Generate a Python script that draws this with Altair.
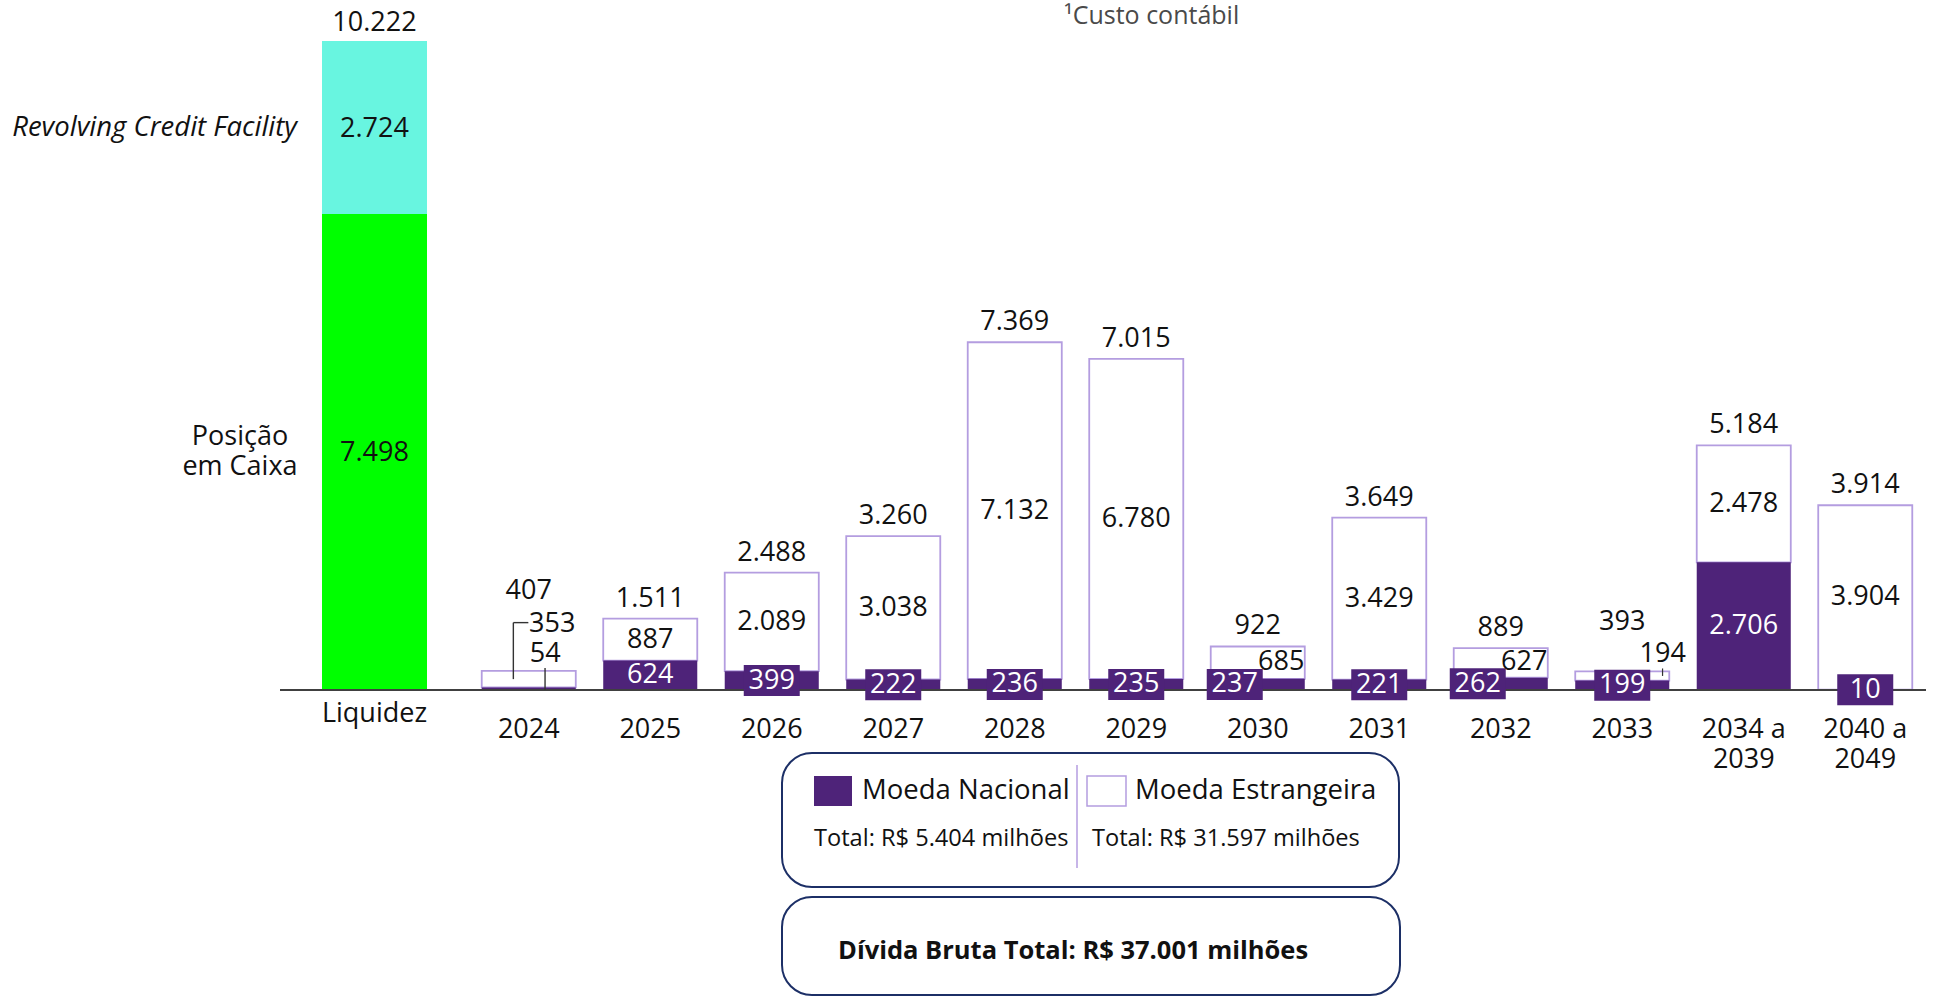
import altair as alt
import pandas as pd

# ---------------- data ----------------
categories = ["2024", "2025", "2026", "2027", "2028", "2029", "2030", "2031",
              "2032", "2033", "2034 a 2039", "2040 a 2049"]
moeda_nacional = [54, 624, 399, 222, 236, 235, 237, 221, 262, 199, 2706, 10]
moeda_estrangeira = [353, 887, 2089, 3038, 7132, 6780, 685, 3429, 627, 194, 2478, 3904]
totais = [407, 1511, 2488, 3260, 7369, 7015, 922, 3649, 889, 393, 5184, 3914]

liq_category = ["Liquidez"]
posicao_caixa = [7498]
revolving = [2724]
liq_total = [10222]
liq_series = ["Posição\nem Caixa", "Revolving Credit Facility"]

legend_names = ["Moeda Nacional", "Moeda Estrangeira"]
legend_totals = ["Total: R$ 5.404 milhões", "Total: R$ 31.597 milhões"]
grand_total = "Dívida Bruta Total: R$ 37.001 milhões"
footnote = "¹Custo contábil"

# ---------------- style ----------------
FONT = "Open Sans"
PURPLE = "#4e2379"
LIGHT = "#b49de0"
GREEN = "#00ff00"
CYAN = "#68f5e0"
NAVY = "#1c2f66"
INK = "#111111"
LEAD = "#333333"
FS = 27


def fmt(field):
    return f"replace(format(datum.{field}, ',d'), ',', '.')"


def only(cats):
    arr = "[" + ",".join(f"'{c}'" for c in cats) + "]"
    return f"indexof({arr}, datum.cat) >= 0"


def excl(cats):
    arr = "[" + ",".join(f"'{c}'" for c in cats) + "]"
    return f"indexof({arr}, datum.cat) < 0"


# ---------------- debt (right group) ----------------
debt = pd.DataFrame({"cat": categories, "nat": moeda_nacional,
                     "est": moeda_estrangeira, "total": totais})

YS = alt.Scale(domain=[0, 14619], nice=False, zero=True)
XS = alt.Scale(domain=categories, range=[468, 1926], paddingInner=0.226, paddingOuter=0.113)
x_axis = alt.Axis(orient="bottom", domain=False, ticks=False, grid=False, labelAngle=0,
                  labelFont=FONT, labelFontSize=FS, labelColor=INK, labelPadding=26,
                  labelLineHeight=30, title=None,
                  labelExpr="indexof(datum.label, ' a ') > 0 ? [slice(datum.label, 0, 6), slice(datum.label, 7)] : datum.label")
X = alt.X("cat:N", sort=categories, scale=XS, axis=x_axis)


def yr(field):
    return alt.Y(f"{field}:Q", scale=YS, axis=None)


base = alt.Chart(debt).transform_calculate(
    zero="0",
    nat_mid="datum.nat / 2",
    top="datum.nat + datum.est",
    est_mid="datum.nat + datum.est / 2",
    nat_lbl=fmt("nat"),
    est_lbl=fmt("est"),
    tot_lbl=fmt("total"),
)

est_bars = base.mark_bar(fill="white", stroke=LIGHT, strokeWidth=1.8).encode(
    x=X, y=yr("nat"), y2=alt.Y2("top:Q"))
nat_bars = base.mark_bar(color=PURPLE).encode(x=X, y=yr("nat"))

baseline = alt.Chart(pd.DataFrame({"zero": [0]})).mark_rule(color="#404040", strokeWidth=2).encode(
    x=alt.value(280), x2=alt.value(1926), y=yr("zero"))

box_norm = base.transform_filter(excl(["2024", "2025", "2034 a 2039", "2030", "2032"])).mark_tick(
    color=PURPLE, thickness=31, size=56, opacity=1).encode(x=X, y=yr("nat_mid"))
box_shift = base.transform_filter(only(["2030", "2032"])).mark_tick(
    color=PURPLE, thickness=31, size=56, opacity=1, xOffset=-23).encode(x=X, y=yr("nat_mid"))


def label(filt, field, text, dx=0, dy=0, color=INK):
    return base.transform_filter(filt).mark_text(
        font=FONT, fontSize=FS, color=color, dx=dx, dy=dy, align="center", baseline="middle"
    ).encode(x=X, y=yr(field), text=alt.Text(f"{text}:N"))


nat_l1 = label(excl(["2024", "2030", "2032"]), "nat_mid", "nat_lbl", color="white")
nat_l2 = label(only(["2030", "2032"]), "nat_mid", "nat_lbl", dx=-23, color="white")
nat_l3 = label(only(["2024"]), "nat_mid", "nat_lbl", dx=16.5, dy=-34.5)

est_l1 = label(excl(["2024", "2030", "2032", "2033"]), "est_mid", "est_lbl")
est_l2 = label(only(["2024"]), "est_mid", "est_lbl", dx=23.5, dy=-55.5)
est_l3 = label(only(["2030", "2032"]), "est_mid", "est_lbl", dx=23.5, dy=-1)
est_l4 = label(only(["2033"]), "est_mid", "est_lbl", dx=40.5, dy=-22)

tot_l1 = label(excl(["2024", "2033"]), "top", "tot_lbl", dy=-20)
tot_l2 = label(only(["2024"]), "top", "tot_lbl", dy=-79.5)
tot_l3 = label(only(["2033"]), "top", "tot_lbl", dy=-49)

lead_a = base.transform_filter(only(["2024"])).mark_rule(
    color=LEAD, strokeWidth=1.4, xOffset=-15.4, y2Offset=-56.5).encode(
    x=X, y=yr("est_mid"), y2=alt.Y2("est_mid:Q"))
lead_b = base.transform_filter(only(["2024"])).mark_tick(
    color=LEAD, thickness=1.4, size=15, opacity=1, xOffset=-7.9, yOffset=-56.5).encode(
    x=X, y=yr("est_mid"))
lead_c = base.transform_filter(only(["2024"])).mark_rule(
    color=LEAD, strokeWidth=1.4, xOffset=16.3, y2Offset=-22).encode(
    x=X, y=yr("zero"), y2=alt.Y2("zero:Q"))
lead_d = base.transform_filter(only(["2033"])).mark_rule(
    color=LEAD, strokeWidth=1.2, xOffset=40.3, yOffset=-3, y2Offset=4.5).encode(
    x=X, y=yr("top"), y2=alt.Y2("top:Q"))

# legend decoration
one = alt.Chart(pd.DataFrame({"k": [0]}))
box1 = one.mark_rect(cornerRadius=30, fill="white", stroke=NAVY, strokeWidth=2).encode(
    x=alt.value(782), x2=alt.value(1399), y=alt.value(753), y2=alt.value(887))
box2 = one.mark_rect(cornerRadius=30, fill="white", stroke=NAVY, strokeWidth=2).encode(
    x=alt.value(782), x2=alt.value(1400), y=alt.value(897), y2=alt.value(995))
sq1 = one.mark_rect(fill=PURPLE).encode(
    x=alt.value(814), x2=alt.value(852), y=alt.value(776), y2=alt.value(806))
sq2 = one.mark_rect(fill="white", stroke=LIGHT, strokeWidth=1.5).encode(
    x=alt.value(1087), x2=alt.value(1126), y=alt.value(776), y2=alt.value(806))
sep = one.mark_rule(color=LIGHT, strokeWidth=1.5).encode(
    x=alt.value(1077), y=alt.value(765), y2=alt.value(868))


def deco_text(s, x, y, size, weight="normal", color=INK):
    return one.mark_text(font=FONT, fontSize=size, fontWeight=weight, color=color,
                         align="left", baseline="middle").encode(
        x=alt.value(x), y=alt.value(y), text=alt.value(s))


t1 = deco_text(legend_names[0], 862, 791, 27.5)
t2 = deco_text(legend_names[1], 1135, 791, 27.5)
t3 = deco_text(legend_totals[0], 814, 839, 23.6)
t4 = deco_text(legend_totals[1], 1092, 839, 23.6)
t5 = deco_text(grand_total, 838, 951, 25.5, weight="bold")
t6 = deco_text(footnote, 1064, 16, 25, color="#4a4a4a")

right = alt.layer(
    est_bars, nat_bars, baseline, box_norm, box_shift,
    nat_l1, nat_l2, nat_l3, est_l1, est_l2, est_l3, est_l4,
    tot_l1, tot_l2, tot_l3, lead_a, lead_b, lead_c, lead_d,
    box1, box2, sq1, sq2, sep, t1, t2, t3, t4, t5, t6,
)

# ---------------- liquidez (left group) ----------------
liq_df = pd.DataFrame({"cat": liq_category, "caixa": posicao_caixa, "rcf": revolving,
                       "total": liq_total, "s1": [liq_series[0]], "s2": [liq_series[1]]})
YLS = alt.Scale(domain=[0, 10868], nice=False, zero=True)
XLS = alt.Scale(domain=liq_category, range=[322, 427], paddingInner=0, paddingOuter=0)
XL = alt.X("cat:N", scale=XLS,
           axis=alt.Axis(orient="bottom", domain=False, ticks=False, grid=False, labelAngle=0,
                         labelFont=FONT, labelFontSize=FS, labelColor=INK, labelPadding=10,
                         title=None))


def yl(field):
    return alt.Y(f"{field}:Q", scale=YLS, axis=None)


lbase = alt.Chart(liq_df).transform_calculate(
    top="datum.caixa + datum.rcf",
    c_mid="datum.caixa / 2",
    r_mid="datum.caixa + datum.rcf / 2",
    caixa_lbl=fmt("caixa"),
    rcf_lbl=fmt("rcf"),
    tot_lbl=fmt("total"),
)

green = lbase.mark_bar(color=GREEN).encode(x=XL, y=yl("caixa"))
cyan = lbase.mark_bar(color=CYAN).encode(x=XL, y=yl("caixa"), y2=alt.Y2("top:Q"))


def llabel(field, text, dx=0, dy=0, align="center", style="normal", lb=None, size=FS):
    kw = dict(font=FONT, fontSize=size, color=INK, dx=dx, dy=dy, align=align,
              baseline="middle", fontStyle=style)
    if lb:
        kw.update(lineBreak=lb, lineHeight=30)
    return lbase.mark_text(**kw).encode(x=XL, y=yl(field), text=alt.Text(f"{text}:N"))


l_tot = llabel("top", "tot_lbl", dy=-18.5)
l_rcf = llabel("r_mid", "rcf_lbl", dy=1.5)
l_cx = llabel("c_mid", "caixa_lbl", dy=1.5)
s_rcf = llabel("r_mid", "s2", dx=-77.5, dy=1, align="right", style="italic", size=27.5)
s_cx = llabel("c_mid", "s1", dx=-134.5, dy=-15, align="center", lb="\n")

left = alt.layer(green, cyan, l_tot, l_rcf, l_cx, s_rcf, s_cx)

chart = alt.layer(left, right).resolve_scale(x="independent", y="independent").properties(
    width=1936, height=690,
    padding={"left": 0, "top": 0, "right": 0, "bottom": 307},
    autosize=alt.AutoSizeParams(type="none"),
).configure_view(stroke=None)

chart.save("out.html", embed_options={"renderer": "svg", "actions": False})
